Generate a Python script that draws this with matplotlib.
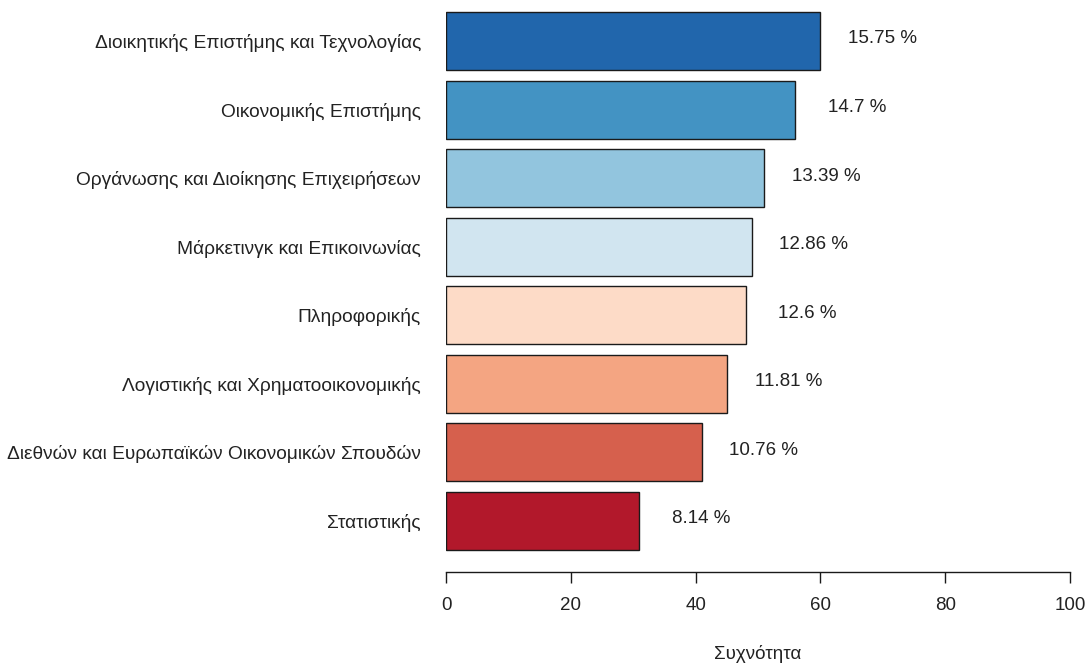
import matplotlib
matplotlib.use("Agg")
import matplotlib.pyplot as plt

plt.rcParams['font.family'] = ['Liberation Sans', 'DejaVu Sans']

departments = [
    "Διοικητικής Επιστήμης και Τεχνολογίας",
    "Οικονομικής Επιστήμης",
    "Οργάνωσης και Διοίκησης Επιχειρήσεων",
    "Μάρκετινγκ και Επικοινωνίας",
    "Πληροφορικής",
    "Λογιστικής και Χρηματοοικονομικής",
    "Διεθνών και Ευρωπαϊκών Οικονομικών Σπουδών",
    "Στατιστικής",
]
counts = [60, 56, 51, 49, 48, 45, 41, 31]
percent_labels = ["15.75 %", "14.7 %", "13.39 %", "12.86 %", "12.6 %", "11.81 %", "10.76 %", "8.14 %"]
colors = ["#2166AC", "#4393C3", "#92C5DE", "#D1E5F0", "#FDDBC7", "#F4A582", "#D6604D", "#B2182B"]

fig = plt.figure(figsize=(10.89, 6.64), dpi=100)
ax = fig.add_axes([446 / 1089, 1 - 572 / 664, (1070 - 446) / 1089, 572 / 664])

ypos = list(range(len(counts)))
ax.barh(ypos, counts, height=0.845, color=colors, edgecolor="#1a1a1a", linewidth=1.0)

for y, c, lab in zip(ypos, counts, percent_labels):
    ax.text(c + 9.9, y - 0.03, lab, ha="center", va="center", fontsize=13.5, color="#222222")

ax.set_xlim(0, 100)
ax.set_ylim(7 + 0.744, -0.598)
ax.set_yticks(ypos)
ax.set_yticklabels(departments, fontsize=13.8, color="#222222")
ax.tick_params(axis="y", length=0, pad=18)
ax.set_xticks([0, 20, 40, 60, 80, 100])
ax.tick_params(axis="x", length=8, width=1, pad=10, labelsize=13.5, colors="#1a1a1a")
for t in ax.get_xticklabels():
    t.set_color("#222222")
ax.set_xlabel("Συχνότητα", fontsize=13.5, labelpad=22, color="#222222")

for s in ["top", "right", "left"]:
    ax.spines[s].set_visible(False)
ax.spines["bottom"].set_linewidth(1)
ax.spines["bottom"].set_color("#1a1a1a")

fig.savefig("out.png", dpi=100)
